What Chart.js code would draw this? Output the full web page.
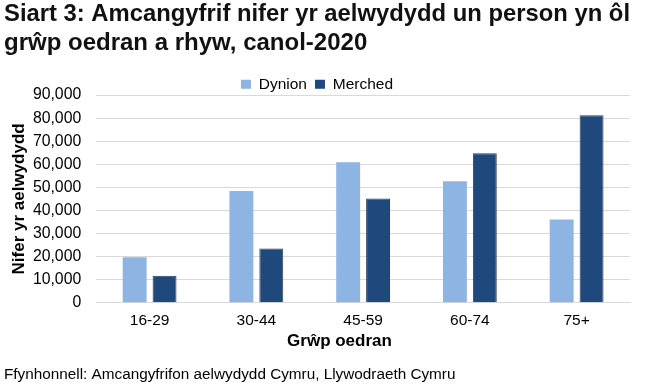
<!DOCTYPE html>
<html>
<head>
<meta charset="utf-8">
<script src="https://cdn.jsdelivr.net/npm/chart.js@4/dist/chart.umd.min.js"></script>
<style>
  html, body { margin: 0; padding: 0; background: #fff; }
  #wrap { width: 654px; height: 388px; position: relative; }
</style>
</head>
<body>
<div id="wrap"><canvas id="c" width="654" height="388"></canvas></div>
<script>
const categories = ['16-29', '30-44', '45-59', '60-74', '75+'];
const dynion = [19700, 48400, 60900, 52600, 36100];
const merched = [11700, 23500, 45200, 64800, 81300];
const seriesNames = ['Dynion', 'Merched'];
const titleLines = ['Siart 3: Amcangyfrif nifer yr aelwydydd un person yn ôl', 'grŵp oedran a rhyw, canol-2020'];
const yAxisTitle = 'Nifer yr aelwydydd';
const xAxisTitle = 'Grŵp oedran';
const sourceText = 'Ffynhonnell: Amcangyfrifon aelwydydd Cymru, Llywodraeth Cymru';

const FONT = "'Liberation Sans', Arial, sans-serif";
Chart.defaults.font.family = FONT;
Chart.defaults.color = '#000';

const chart = new Chart(document.getElementById('c'), {
  type: 'bar',
  data: {
    labels: categories,
    datasets: [
      { label: seriesNames[0], data: dynion, backgroundColor: '#8EB4E3', borderWidth: 0 },
      { label: seriesNames[1], data: merched, backgroundColor: '#1F497D', borderColor: '#2B3F5C', borderWidth: 1 }
    ]
  },
  options: {
    responsive: false,
    animation: false,
    devicePixelRatio: 1,
    layout: { padding: { left: 4, right: 24, top: 0, bottom: 4 } },
    datasets: { bar: { categoryPercentage: 0.56, barPercentage: 0.8 } },
    plugins: {
      title: {
        display: true,
        text: titleLines,
        align: 'start',
        font: { size: 24, weight: 'bold', family: FONT },
        color: '#111',
        lineHeight: 1.25,
        padding: { top: 0, bottom: 11 }
      },
      subtitle: {
        display: true,
        text: sourceText,
        position: 'bottom',
        align: 'start',
        font: { size: 15.3, family: FONT },
        color: '#000',
        padding: { top: 14, bottom: 0 }
      },
      legend: {
        display: true,
        position: 'top',
        labels: {
          boxWidth: 10, boxHeight: 9, font: { size: 15.5, family: FONT }, color: '#000', padding: 8,
          generateLabels: (c) => c.data.datasets.map((d, i) => ({
            text: d.label, fillStyle: d.backgroundColor, strokeStyle: d.backgroundColor, lineWidth: 0, datasetIndex: i, fontColor: '#000'
          }))
        }
      },
      tooltip: { enabled: false }
    },
    scales: {
      x: {
        grid: { display: false, drawTicks: false },
        border: { display: true, color: '#D9D9D9', width: 1 },
        ticks: { font: { size: 15.5, family: FONT }, color: '#000', padding: 9 },
        title: { display: true, text: xAxisTitle + '\u00A0'.repeat(10), font: { size: 17, weight: 'bold', family: FONT }, color: '#000', padding: { top: -8, bottom: 0 } }
      },
      y: {
        min: 0, max: 90000,
        ticks: { stepSize: 10000, autoSkip: false, font: { size: 15.8, family: FONT }, color: '#000', padding: 15,
          callback: (v) => v.toLocaleString('en-US') },
        grid: { color: '#D9D9D9', drawTicks: false },
        border: { display: false },
        title: { display: true, text: yAxisTitle, font: { size: 17, weight: 'bold', family: FONT }, color: '#000', padding: { top: 5, bottom: -11.5 } }
      }
    }
  }
});

// tighten the space under the legend row
const legendFit = chart.legend.fit;
chart.legend.fit = function () {
  legendFit.call(this);
  this.height = Math.max(0, this.height - 7);
};
chart.update();
</script>
</body>
</html>
